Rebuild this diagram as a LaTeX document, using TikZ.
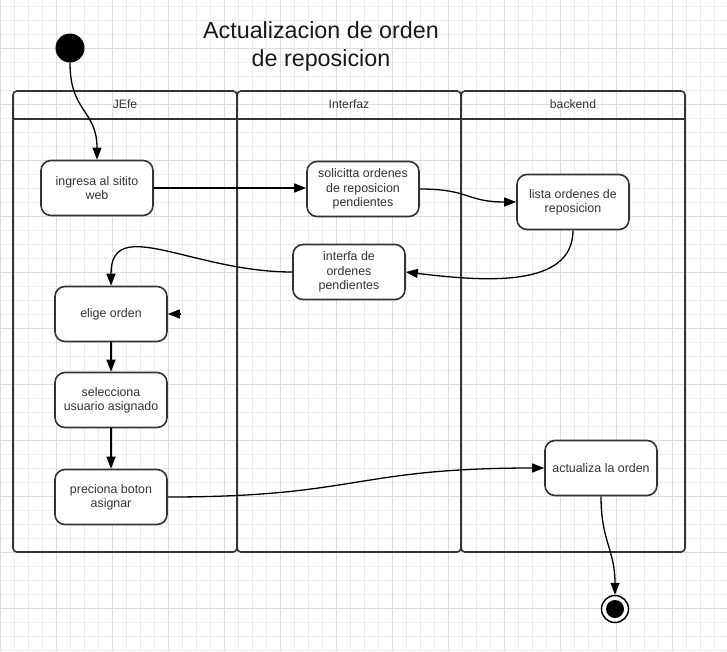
\documentclass[tikz,border=0pt]{standalone}
\usepackage{fontspec}
\setmainfont{Liberation Sans}
\usetikzlibrary{arrows.meta}
\definecolor{gridminor}{HTML}{EDEDED}
\definecolor{gridmajor}{HTML}{DCDCDC}
\definecolor{trazo}{HTML}{333333}
\tikzset{
  actividad/.style={draw=trazo, line width=1.6pt, fill=white, rectangle, rounded corners=10pt,
    minimum width=112pt, minimum height=55pt, align=center, text=trazo,
    font=\fontsize{12.4pt}{14.3pt}\selectfont},
  carril/.style={draw=trazo, line width=1.6pt, rounded corners=4pt},
  cabecera/.style={text=trazo, font=\fontsize{12.2pt}{14pt}\selectfont},
  flecha/.style={draw=black, line width=1.3pt, -{Triangle[length=12pt,width=9pt]}},
}

\begin{document}
\begin{tikzpicture}[x=1pt, y=-1pt]%
\useasboundingbox (0,0) rectangle (727,651);%
% cuadricula de fondo
\foreach \x in {0,14,...,726} \draw[gridminor, line width=0.8pt] (\x,0) -- (\x,651);%
\foreach \y in {6,20,...,650} \draw[gridminor, line width=0.8pt] (0,\y) -- (727,\y);%
\foreach \x in {0,56,...,726} \draw[gridmajor, line width=1pt] (\x,0) -- (\x,651);%
\foreach \y in {48,104,...,650} \draw[gridmajor, line width=1pt] (0,\y) -- (727,\y);%
% titulo
\node[align=center, font=\fontsize{23.3pt}{28pt}\selectfont, text=black!90] (titulo) at (321,46) {Actualizacion de orden\\de reposicion};%
% carriles
\draw[carril] (13,91) rectangle (237,552);%
\draw[carril] (237,91) rectangle (461,552);%
\draw[carril] (461,91) rectangle (685,552);%
\draw[carril, rounded corners=0pt] (13,119) -- (685,119);%
\node[cabecera] (jefe) at (125,104) {JEfe};%
\node[cabecera] (interfaz) at (349,104) {Interfaz};%
\node[cabecera] (backend) at (573,104) {backend};%
% actividades
\node[circle, fill=black, minimum size=29pt, inner sep=0pt] (inicio) at (70,48) {};%
\node[actividad] (ingresa) at (97,188) {ingresa al sitito\\web};%
\node[actividad] (solicita) at (363,189) {solicitta ordenes\\de reposicion\\pendientes};%
\node[actividad] (lista) at (573,202) {lista ordenes de\\reposicion};%
\node[actividad] (interfa) at (349,272) {interfa de\\ordenes\\pendientes};%
\node[actividad] (elige) at (111,314) {elige orden};%
\node[actividad] (selecciona) at (111,400) {selecciona\\usuario asignado};%
\node[actividad] (preciona) at (111,497) {preciona boton\\asignar};%
\node[actividad] (actualiza) at (601,468) {actualiza la orden};%
\node[circle, draw=black, line width=1.5pt, fill=white, minimum size=27pt, inner sep=0pt] (fin) at (615,609) {};%
\fill[black] (fin.center) circle (9);%
\coordinate (eligepunta) at (181,314);%
% flujo
\draw[flecha] (inicio.south) .. controls +(0,50) and +(0,-50) .. (ingresa.north);%
\draw[flecha] (ingresa.east) -- (solicita.west |- ingresa.east);%
\draw[flecha] (solicita.east) .. controls +(50,0) and +(-50,0) .. (lista.west);%
\draw[flecha] (lista.south) .. controls +(0,59) and +(75,9) .. (interfa.east);%
\draw[flecha] (interfa.west) .. controls +(-100,0) and +(0,-72) .. (elige.north);%
\draw[flecha] (eligepunta) -- (elige.east);%
\draw[flecha] (elige.south) -- (selecciona.north);%
\draw[flecha] (selecciona.south) -- (preciona.north);%
\draw[flecha] (preciona.east) .. controls +(190,0) and +(-190,0) .. (actualiza.west);%
\draw[flecha] (actualiza.south) .. controls +(0,45) and +(0,-45) .. (fin.north);%
\end{tikzpicture}
\end{document}
